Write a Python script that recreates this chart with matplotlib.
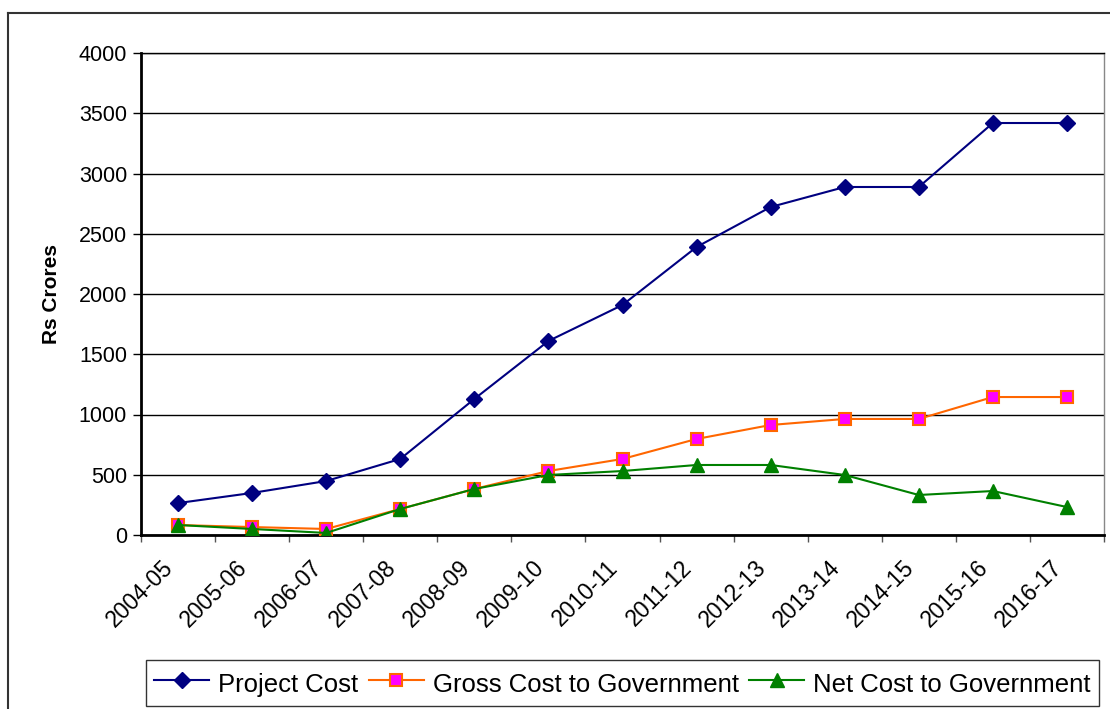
import numpy as np
import matplotlib
matplotlib.use("Agg")
import matplotlib.pyplot as plt
from matplotlib.lines import Line2D
from matplotlib.transforms import ScaledTranslation

plt.rcParams['font.family'] = ['Liberation Sans', 'DejaVu Sans']

# data (Rs crores)
years = ['2004-05', '2005-06', '2006-07', '2007-08', '2008-09', '2009-10', '2010-11',
         '2011-12', '2012-13', '2013-14', '2014-15', '2015-16', '2016-17']
project_cost = [265, 349, 448, 631, 1129, 1610, 1909, 2390, 2722, 2888, 2888, 3419, 3419]
gross_cost = [83, 66, 50, 216, 382, 531, 631, 797, 913, 963, 963, 1145, 1145]
net_cost = [83, 50, 17, 216, 382, 498, 531, 581, 581, 498, 332, 365, 232]

fig = plt.figure(figsize=(11.1, 7.09), dpi=100)
ax = fig.add_axes([141 / 1110, 1 - 535 / 709, (1104 - 141) / 1110, (535 - 53) / 709])

x = np.arange(len(years))
ax.plot(x, project_cost, color='#000080', lw=1.5, marker='D', ms=8,
        mfc='#000080', mec='#000080', label='Project Cost', zorder=3)
ax.plot(x, gross_cost, color='#FF6600', lw=1.5, marker='s', ms=8.5,
        mfc='#FF00FF', mec='#FF6600', mew=1.5, label='Gross Cost to Government', zorder=3)
ax.plot(x, net_cost, color='#008000', lw=1.5, marker='^', ms=9.5,
        mfc='#008000', mec='#008000', label='Net Cost to Government', zorder=4)

ax.set_xlim(-0.5, len(years) - 0.5)
ax.set_ylim(0, 4000)
ax.set_yticks(np.arange(0, 4001, 500))
ax.yaxis.grid(True, color='black', lw=1)
ax.set_axisbelow(True)

# ticks at category boundaries, labels at category centres
ax.set_xticks(np.arange(-0.5, len(years), 1))
ax.set_xticklabels([])
ax.set_xticks(x, minor=True)
ax.set_xticklabels(years, minor=True, rotation=45, ha='right', va='center',
                   rotation_mode='anchor', fontsize=16.5)
ax.tick_params(axis='x', which='minor', length=0, pad=21)
ax.tick_params(axis='x', which='major', length=5, width=1, color='#555555')
ax.tick_params(axis='y', length=6, width=1, labelsize=15.5, pad=4)
for lab in ax.get_xticklabels(minor=True):
    lab.set_transform(lab.get_transform() + ScaledTranslation(-0.08, 0, fig.dpi_scale_trans))

for s in ['left', 'bottom']:
    ax.spines[s].set_linewidth(2)
    ax.spines[s].set_color('black')
ax.spines['top'].set_linewidth(1)
ax.spines['right'].set_color('#888888')
ax.spines['right'].set_linewidth(1)

ax.set_ylabel('Rs Crores', fontsize=15, fontweight='bold', labelpad=13)

leg = fig.legend(loc='center', bbox_to_anchor=(622.5 / 1110, 1 - 683 / 709), ncol=3,
                 fontsize=18.5, frameon=True, fancybox=False, handlelength=2.15,
                 handleheight=1.45, handletextpad=0.35, columnspacing=0.4, borderpad=0.3)
leg.get_frame().set_edgecolor('black')
leg.get_frame().set_linewidth(1)

# outer chart border (left and top edges visible)
fig.add_artist(Line2D([8 / 1110, 8 / 1110], [0, 1 - 13 / 709], transform=fig.transFigure,
                      color='#333333', lw=1.5))
fig.add_artist(Line2D([8 / 1110, 1], [1 - 13 / 709, 1 - 13 / 709], transform=fig.transFigure,
                      color='#333333', lw=1.5))

fig.savefig('out.png', dpi=100)
